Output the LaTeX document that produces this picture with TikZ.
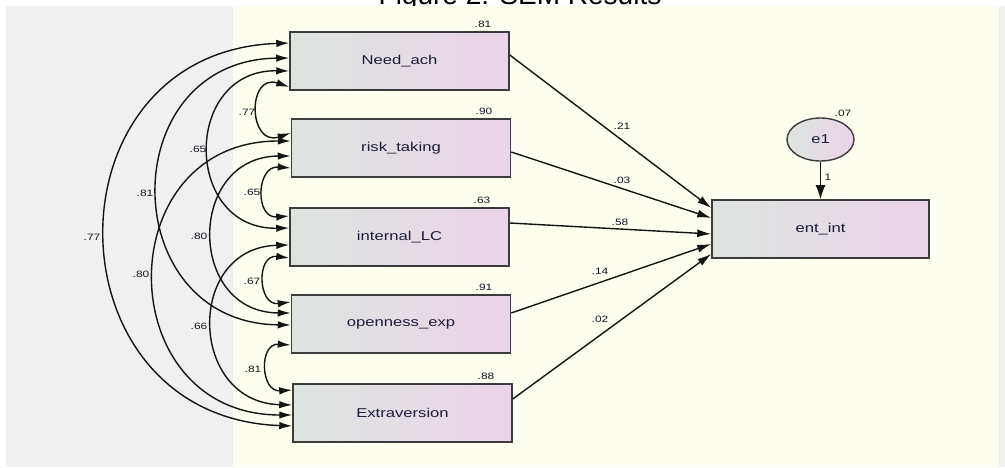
\documentclass[tikz,border=0pt]{standalone}
\usepackage{fontspec}
\setmainfont{Liberation Sans}
\newfontfamily\boxfont[FakeStretch=1.3]{Liberation Sans}
\usetikzlibrary{arrows.meta,shapes.geometric,calc}
\definecolor{panelgrey}{RGB}{240,240,240}
\definecolor{panelyel}{RGB}{254,254,240}
\definecolor{boxL}{RGB}{221,228,223}
\definecolor{boxR}{RGB}{235,213,233}
\definecolor{edgec}{RGB}{60,60,60}
\definecolor{txtc}{RGB}{28,28,58}
\definecolor{numc}{RGB}{20,20,34}
\definecolor{lnc}{RGB}{20,20,20}
\begin{document}
\begin{tikzpicture}[x=1pt,y=-1pt,
  obs/.style={draw=edgec, line width=1.5pt, left color=boxL, right color=boxR,
    minimum width=219pt, minimum height=58pt, inner sep=0pt,
    font=\boxfont\fontsize{12.8}{14}\selectfont, text=txtc},
  errv/.style={ellipse, draw=edgec, line width=1.4pt, left color=boxL, right color=boxR,
    minimum width=67pt, minimum height=43pt, inner sep=0pt,
    font=\boxfont\fontsize{12.8}{14}\selectfont, text=txtc},
  num/.style={font=\boxfont\fontsize{9.2}{10}\selectfont, text=numc, inner sep=0pt},
  cov/.style={{Latex[length=13pt,width=7.5pt]}-{Latex[length=13pt,width=7.5pt]}, line width=1.4pt, draw=lnc},
  reg/.style={-{Latex[length=14pt,width=8pt]}, line width=1.4pt, draw=lnc},
  fix/.style={-{Latex[length=14pt,width=10pt]}, line width=1.6pt, draw=lnc}
]
\useasboundingbox (0,0) rectangle (1005,468);
\clip (0,0) rectangle (1005,468);
\fill[white] (0,0) rectangle (1005,468);
\node[anchor=base, font=\fontsize{28}{30}\selectfont, inner sep=0pt] (title) at (520,4.5) {Figure 2: SEM Results};
\fill[panelgrey] (6,6) rectangle (233,467);
\fill[panelyel] (233,6) rectangle (999,467);
\fill[panelgrey] (999,6) rectangle (1005,467);

% observed variables
\node[obs] (need) at (399.5,61) {Need\_ach};
\node[obs] (risk) at (401,148) {risk\_taking};
\node[obs] (int)  at (399.5,237) {internal\_LC};
\node[obs] (open) at (401,324) {openness\_exp};
\node[obs] (ext)  at (402.5,413) {Extraversion};
\node[obs, minimum width=217pt] (ent) at (820.5,229) {ent\_int};
\node[errv] (e1) at (820.5,139.5) {e1};

% squared multiple correlations
\node[num] (vneed) at (483,24) {.81};
\node[num] (vrisk) at (484,111) {.90};
\node[num] (vint)  at (482,200) {.63};
\node[num] (vopen) at (484,287) {.91};
\node[num] (vext)  at (486,376) {.88};
\node[num] (vent)  at (843,113) {.07};

% covariance end points
\coordinate (nX) at ([yshift=18pt]need.west);
\coordinate (nO) at ([yshift=3pt]need.west);
\coordinate (nI) at ([yshift=-10pt]need.west);
\coordinate (nR) at ([yshift=-26pt]need.west);
\coordinate (rN) at ([yshift=15pt]risk.west);
\coordinate (rX) at ([yshift=7pt]risk.west);
\coordinate (rO) at ([yshift=-8pt]risk.west);
\coordinate (rI) at ([yshift=-20pt]risk.west);
\coordinate (iR) at ([yshift=21pt]int.west);
\coordinate (iN) at ([yshift=9pt]int.west);
\coordinate (iX) at ([yshift=-8pt]int.west);
\coordinate (iO) at ([yshift=-21pt]int.west);
\coordinate (oI) at ([yshift=22pt]open.west);
\coordinate (oR) at ([yshift=11pt]open.west);
\coordinate (oN) at ([yshift=-1pt]open.west);
\coordinate (oX) at ([yshift=-21pt]open.west);
\coordinate (xO) at ([yshift=23pt]ext.west);
\coordinate (xI) at ([yshift=8pt]ext.west);
\coordinate (xR) at ([yshift=-2pt]ext.west);
\coordinate (xN) at ([yshift=-13pt]ext.west);

% covariances
\draw[cov] (nX) .. controls +(-246.6,8.5) and +(-246.6,-8.5) .. (xN);
\draw[cov] (nO) .. controls +(-176,2) and +(-176,-2) .. (oN);
\draw[cov] (rX) .. controls +(-182.7,0) and +(-182.7,0) .. (xR);
\draw[cov] (nI) .. controls +(-106.7,-2) and +(-106.7,2) .. (iN);
\draw[cov] (rO) .. controls +(-104,0.5) and +(-104,-0.5) .. (oR);
\draw[cov] (iX) .. controls +(-104,2.6) and +(-104,-2.6) .. (xI);
\draw[cov] (nR) .. controls +(-42.6,-14.3) and +(-42.6,14.3) .. (rN);
\draw[cov] (rI) .. controls +(-34.7,-2.8) and +(-34.7,2.8) .. (iR);
\draw[cov] (iO) .. controls +(-33.3,-4.3) and +(-33.3,4.3) .. (oI);
\draw[cov] (oX) .. controls +(-32,-2.1) and +(-32,2.1) .. (xO);

% covariance labels
\node[num] (cNR) at (247,112) {.77};
\node[num] (cNI) at (198,149) {.65};
\node[num] (cNO) at (145,193) {.81};
\node[num] (cNX) at (92,237) {.77};
\node[num] (cRI) at (252,192) {.65};
\node[num] (cRO) at (199,236) {.80};
\node[num] (cRX) at (141,274) {.80};
\node[num] (cIO) at (252,281) {.67};
\node[num] (cIX) at (199,326) {.66};
\node[num] (cOX) at (253,369) {.81};

% regression paths
\draw[reg] ([yshift=6pt]need.east) -- ([yshift=21pt]ent.west);
\draw[reg] ([yshift=-4pt]risk.east) -- ([yshift=11pt]ent.west);
\draw[reg] ([yshift=14pt]int.east) -- ([yshift=-5pt]ent.west);
\draw[reg] ([yshift=11pt]open.east) -- ([yshift=-15pt]ent.west);
\draw[reg] ([yshift=14pt]ext.east) -- ([yshift=-25pt]ent.west);
\draw[fix] (e1) -- (ent);

\node[num] (bN) at (622,126) {.21};
\node[num] (bR) at (622,180) {.03};
\node[num] (bI) at (620,222) {.58};
\node[num] (bO) at (600,271) {.14};
\node[num] (bX) at (600,319) {.02};
\node[num] (b1) at (828,177) {1};
\end{tikzpicture}
\end{document}
